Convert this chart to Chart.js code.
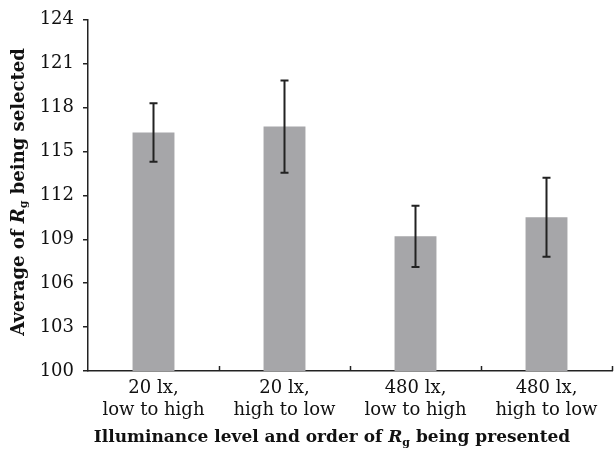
<!DOCTYPE html>
<html>
<head>
<meta charset="utf-8">
<script src="https://cdn.jsdelivr.net/npm/chart.js@4.4.1/dist/chart.umd.min.js"></script>
<style>
  html, body { margin: 0; padding: 0; background: #ffffff; }
  #wrap { width: 614px; height: 457px; }
</style>
</head>
<body>
<div id="wrap"><canvas id="barChart" width="614" height="457"></canvas></div>
<script>
// data
const categories = [['20 lx,', 'low to high'], ['20 lx,', 'high to low'], ['480 lx,', 'low to high'], ['480 lx,', 'high to low']];
const averages = [116.3, 116.7, 109.2, 110.5];
const errors = [2.0, 3.15, 2.1, 2.7];
const yTicks = [100, 103, 106, 109, 112, 115, 118, 121, 124];

const SERIF = "'DejaVu Serif', serif";
const INK = '#222222';

// draws text made of several styled pieces, centred on (x, y)
function drawRich(ctx, parts, x, y) {
    let total = 0;
    parts.forEach(p => {
        ctx.font = p.font;
        p.w = ctx.measureText(p.t).width;
        total += p.w;
    });
    let cx = x - total / 2;
    ctx.textAlign = 'left';
    ctx.textBaseline = 'middle';
    parts.forEach(p => {
        ctx.font = p.font;
        ctx.fillText(p.t, cx, y + (p.dy || 0));
        cx += p.w;
    });
}

function titleParts(before, after, size) {
    return [
        { t: before, font: 'bold ' + size + 'px ' + SERIF },
        { t: 'R', font: 'italic bold ' + size + 'px ' + SERIF },
        { t: 'g', font: 'bold ' + Math.round(size * 0.62) + 'px ' + SERIF, dy: 5 },
        { t: after, font: 'bold ' + size + 'px ' + SERIF }
    ];
}

// error bars, x-axis inner ticks and axis titles
const extras = {
    id: 'extras',
    afterDatasetsDraw(chart) {
        const ctx = chart.ctx;
        const y = chart.scales.y;
        const x = chart.scales.x;
        const bars = chart.getDatasetMeta(0).data;
        ctx.save();
        ctx.strokeStyle = INK;
        ctx.lineWidth = 2;
        bars.forEach((bar, i) => {
            const top = y.getPixelForValue(averages[i] + errors[i]);
            const bot = y.getPixelForValue(averages[i] - errors[i]);
            ctx.beginPath();
            ctx.moveTo(bar.x, top);
            ctx.lineTo(bar.x, bot);
            ctx.moveTo(bar.x - 4, top);
            ctx.lineTo(bar.x + 4, top);
            ctx.moveTo(bar.x - 4, bot);
            ctx.lineTo(bar.x + 4, bot);
            ctx.stroke();
        });

        // small upward ticks between categories
        ctx.lineWidth = 1.5;
        const step = x.getPixelForTick(1) - x.getPixelForTick(0);
        for (let i = 1; i <= categories.length; i++) {
            const px = Math.round(x.getPixelForTick(i - 1) + step / 2) + 0.5;
            ctx.beginPath();
            ctx.moveTo(px, chart.chartArea.bottom);
            ctx.lineTo(px, chart.chartArea.bottom - 5);
            ctx.stroke();
        }

        ctx.fillStyle = '#111111';
        drawRich(ctx, titleParts('Illuminance level and order of ', ' being presented', 17), 332, 438);

        ctx.save();
        ctx.translate(19, 192);
        ctx.rotate(-Math.PI / 2);
        drawRich(ctx, titleParts('Average of ', ' being selected', 18), 0, 0);
        ctx.restore();
        ctx.restore();
    }
};

const ctx = document.getElementById('barChart').getContext('2d');
new Chart(ctx, {
    type: 'bar',
    data: {
        labels: categories,
        datasets: [{
            label: 'Average',
            data: averages,
            backgroundColor: '#a6a6a9',
            borderWidth: 0,
            barPercentage: 0.32,
            categoryPercentage: 1.0
        }]
    },
    options: {
        responsive: false,
        animation: false,
        layout: { padding: { top: 18, right: 2, left: 0, bottom: 0 } },
        plugins: {
            legend: { display: false },
            tooltip: { enabled: false }
        },
        scales: {
            x: {
                offset: true,
                grid: { display: false },
                border: { color: INK, width: 1.5 },
                ticks: {
                    color: '#111111',
                    padding: -1,
                    maxRotation: 0,
                    font: { family: SERIF, size: 18, lineHeight: 1.18 }
                },
                afterFit: scale => { scale.height = 86; }
            },
            y: {
                min: 100,
                max: 124,
                afterBuildTicks: scale => { scale.ticks = yTicks.map(v => ({ value: v })); },
                grid: { drawOnChartArea: false, tickLength: 5, color: INK, lineWidth: 1.5 },
                border: { color: INK, width: 1.5 },
                ticks: {
                    color: '#111111',
                    padding: 9,
                    font: { family: SERIF, size: 18 }
                },
                afterFit: scale => { scale.width = 88; }
            }
        }
    },
    plugins: [extras]
});
</script>
</body>
</html>
